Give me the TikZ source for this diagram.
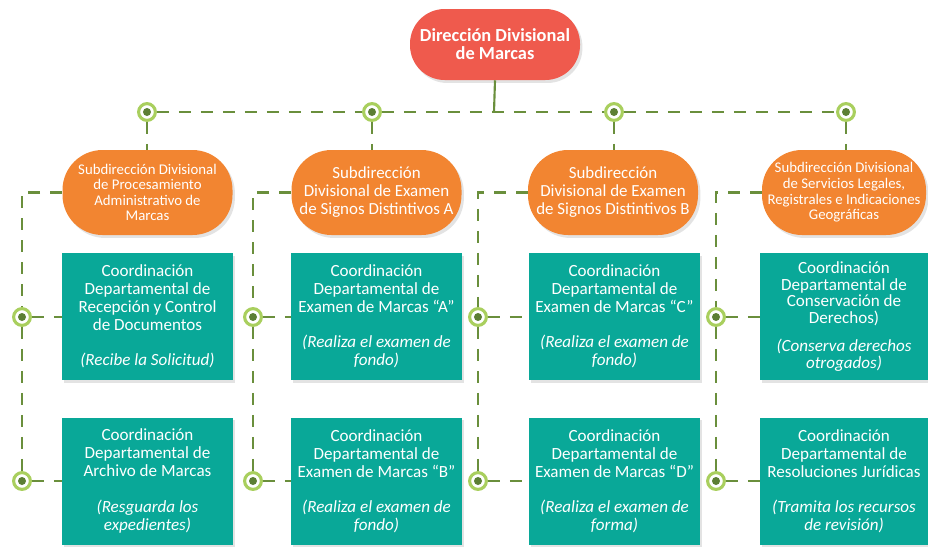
\documentclass[tikz,border=0pt]{standalone}
\usepackage{fontspec}
\setmainfont{Carlito}
\usetikzlibrary{shadows}
\definecolor{redc}{HTML}{EF5A4D}
\definecolor{orangec}{HTML}{F28531}
\definecolor{tealc}{HTML}{09A898}
\definecolor{ringc}{HTML}{A9CF5E}
\definecolor{dotc}{HTML}{5C7F34}
\definecolor{linec}{HTML}{6A8F3C}
\begin{document}
\begin{tikzpicture}[x=0.75pt,y=-0.75pt,
  shad/.style={drop shadow={opacity=0.22,shadow xshift=1.8pt,shadow yshift=-2.2pt}},
  topbox/.style={shad,fill=redc,text=white,rounded corners=26pt,minimum width=127.5pt,minimum height=53.25pt,align=center,inner sep=0pt,font=\bfseries\fontsize{13.8}{13.6}\selectfont},
  subbox/.style={shad,fill=orangec,text=white,rounded corners=30pt,minimum width=127.5pt,minimum height=63.75pt,align=center,inner sep=0pt,font=\fontsize{12.7}{13.5}\selectfont},
  subsmall/.style={subbox,font=\fontsize{11.1}{11.7}\selectfont},
  coordbox/.style={shad,fill=tealc,text=white,minimum width=128.25pt,minimum height=95.25pt,align=center,inner sep=0pt,font=\fontsize{12.8}{13.5}\selectfont},
  hub/.style={circle,draw=ringc,line width=2.3pt,fill=white,minimum size=12.6pt,inner sep=0pt,
    path picture={\fill[dotc] (path picture bounding box.center) circle (3pt);}},
  link/.style={draw=linec,line width=1.6pt,dash pattern=on 9pt off 7.5pt}
]
\useasboundingbox (0,0) rectangle (928,547);

% top
\node[topbox] (top) at (495,44.5) {Dirección Divisional\\de Marcas};

% sub-directorates
\node[subsmall] (s1) at (147.5,192.5) {Subdirección Divisional\\de Procesamiento\\Administrativo de\\Marcas};
\node[subbox] (s2) at (376.5,192.5) {Subdirección\\Divisional de Examen\\de Signos Distintivos A};
\node[subbox] (s3) at (613,192.5) {Subdirección\\Divisional de Examen\\de Signos Distintivos B};
\node[subsmall,minimum width=123pt] (s4) at (844,192.5) {Subdirección Divisional\\de Servicios Legales,\\Registrales e Indicaciones\\Geográficas};

% coordinations
\node[coordbox] (t1a) at (147.5,316.5) {Coordinación\\Departamental de\\Recepción y Control\\de Documentos\\[13pt]\itshape (Recibe la Solicitud)};
\node[coordbox] (t1b) at (147.5,481) {Coordinación\\Departamental de\\Archivo de Marcas\\[13pt]\itshape (Resguarda los\\\itshape expedientes)};
\node[coordbox] (t2a) at (376.5,316.5) {Coordinación\\Departamental de\\Examen de Marcas “A”\\[13pt]\itshape (Realiza el examen de\\\itshape fondo)};
\node[coordbox] (t2b) at (376.5,481) {Coordinación\\Departamental de\\Examen de Marcas “B”\\[13pt]\itshape (Realiza el examen de\\\itshape fondo)};
\node[coordbox] (t3a) at (614.5,316.5) {Coordinación\\Departamental de\\Examen de Marcas “C”\\[13pt]\itshape (Realiza el examen de\\\itshape fondo)};
\node[coordbox] (t3b) at (614.5,481) {Coordinación\\Departamental de\\Examen de Marcas “D”\\[13pt]\itshape (Realiza el examen de\\\itshape forma)};
\node[coordbox,minimum width=126pt,font=\fontsize{12.8}{12.4}\selectfont] (t4a) at (844,316.5) {Coordinación\\Departamental de\\Conservación de\\Derechos)\\[9pt]\itshape (Conserva derechos\\\itshape otrogados)};
\node[coordbox,minimum width=126pt] (t4b) at (844,481) {Coordinación\\Departamental de\\Resoluciones Jurídicas\\[13pt]\itshape (Tramita los recursos\\\itshape de revisión)};

% hubs top row
\node[hub] (h1) at (147,112) {};
\node[hub] (h2) at (372,112) {};
\node[hub] (h3) at (614,112) {};
\node[hub] (h4) at (846,112) {};
\coordinate (j) at (494,112);

% hubs columns
\node[hub] (a1) at (22,317) {};
\node[hub] (b1) at (22,481) {};
\node[hub] (a2) at (253,317) {};
\node[hub] (b2) at (253,481) {};
\node[hub] (a3) at (478,317) {};
\node[hub] (b3) at (478,481) {};
\node[hub] (a4) at (716,317) {};
\node[hub] (b4) at (716,481) {};

\coordinate (c1) at (22,192.5);
\coordinate (c2) at (253,192.5);
\coordinate (c3) at (478,192.5);
\coordinate (c4) at (716,192.5);

% connectors
\draw[linec,line width=1.6pt] (top.south) -- (j);
\draw[link] (h1) -- (h2) -- (h3) -- (h4);
\draw[link] (h1) -- (h1 |- s1.north);
\draw[link] (h2) -- (h2 |- s2.north);
\draw[link] (h3) -- (h3 |- s3.north);
\draw[link] (h4) -- (h4 |- s4.north);

\foreach \k in {1,2,3,4}{
  \draw[link] (s\k.west) -- (c\k) -- (a\k) -- (b\k);
  \draw[link] (a\k) -- (a\k -| t\k a.west);
  \draw[link] (b\k) -- (b\k -| t\k b.west);
}
\end{tikzpicture}
\end{document}
